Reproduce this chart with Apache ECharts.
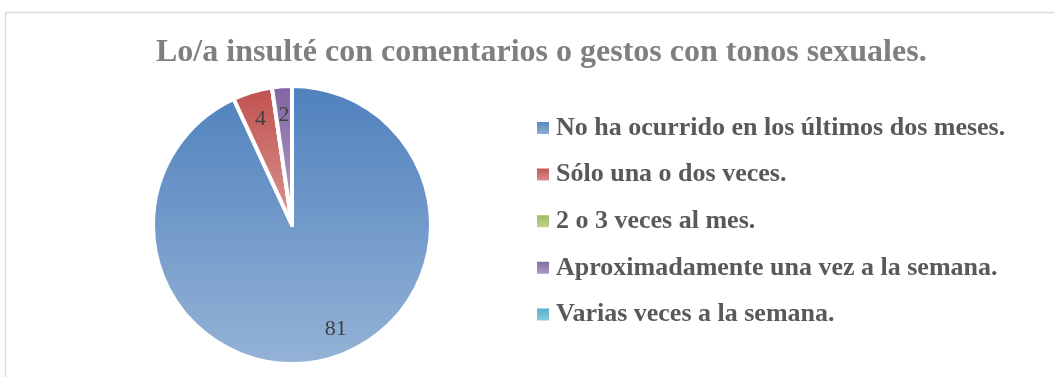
<!DOCTYPE html>
<html>
<head>
<meta charset="utf-8">
<script src="https://cdn.jsdelivr.net/npm/echarts@6/dist/echarts.min.js"></script>
<style>
  html, body { margin: 0; padding: 0; background: #fff; }
  #chart { width: 1054px; height: 377px; }
</style>
</head>
<body>
<div id="chart"></div>
<script>
// Answer categories and counts
const categories = [
  'No ha ocurrido en los últimos dos meses.',
  'Sólo una o dos veces.',
  '2 o 3 veces al mes.',
  'Aproximadamente una vez a la semana.',
  'Varias veces a la semana.'
];
const values = [81, 4, 0, 2, 0];
const titleText = 'Lo/a insulté con comentarios o gestos con tonos sexuales.';

// Fill colours: darker shade at the top, lighter at the bottom
const topColors = ['#4F81BD', '#C0504D', '#9BBB59', '#8064A2', '#4BACC6'];
const bottomColors = ['#95B3D7', '#DA9694', '#C3D69B', '#B3A2C7', '#93CDDD'];

function grad(i) {
  return new echarts.graphic.LinearGradient(0, 0, 0, 1, [
    { offset: 0, color: topColors[i] },
    { offset: 1, color: bottomColors[i] }
  ]);
}

const serif = '"Liberation Serif", "Times New Roman", serif';
const center = [292, 225];
const outerR = 139;

const chart = echarts.init(document.getElementById('chart'), null, { renderer: 'canvas' });

chart.setOption({
  animation: false,
  backgroundColor: '#fff',
  graphic: [{
    type: 'rect',
    shape: { x: 5.5, y: 12.5, width: 1200, height: 500 },
    style: { fill: 'none', stroke: '#d9d9d9', lineWidth: 1.5 },
    silent: true
  }],
  title: {
    text: titleText,
    left: 156,
    top: 37,
    padding: 0,
    textStyle: {
      fontFamily: serif,
      fontWeight: 'bold',
      fontSize: 32,
      lineHeight: 32,
      color: '#7f7f7f'
    }
  },
  legend: {
    orient: 'vertical',
    left: 535,
    top: 115,
    padding: 0,
    itemWidth: 14,
    itemHeight: 14,
    itemGap: 20.6,
    icon: 'rect',
    data: categories,
    selectedMode: false,
    textStyle: {
      fontFamily: serif,
      fontWeight: 'bold',
      fontSize: 26,
      lineHeight: 26,
      color: '#595959',
      padding: [0, 0, 0, 1]
    }
  },
  series: [
    {
      name: 'main',
      type: 'pie',
      center: center,
      radius: [0, outerR],
      startAngle: 90,
      clockwise: true,
      avoidLabelOverlap: false,
      silent: true,
      label: { show: false },
      labelLine: { show: false },
      emphasis: { disabled: true },
      itemStyle: { borderColor: '#ffffff', borderWidth: 4 },
      data: categories.map((name, i) => ({
        name: name,
        value: values[i],
        itemStyle: { color: grad(i) }
      }))
    },
    {
      // transparent ring used only to place the value labels further out
      name: 'labels',
      type: 'pie',
      center: center,
      radius: [76, outerR],
      startAngle: 90,
      clockwise: true,
      avoidLabelOverlap: false,
      silent: true,
      legendHoverLink: false,
      emphasis: { disabled: true },
      itemStyle: { color: 'rgba(0,0,0,0)', borderWidth: 0 },
      labelLine: { show: false },
      label: {
        show: true,
        position: 'inside',
        fontFamily: serif,
        fontSize: 22,
        color: '#404040',
        formatter: p => (p.value === 0 ? '' : String(p.value))
      },
      data: categories.map((name, i) => ({
        name: name,
        value: values[i],
        label: i === 0 ? { offset: [20, -4] } : {}
      }))
    }
  ]
});
</script>
</body>
</html>
